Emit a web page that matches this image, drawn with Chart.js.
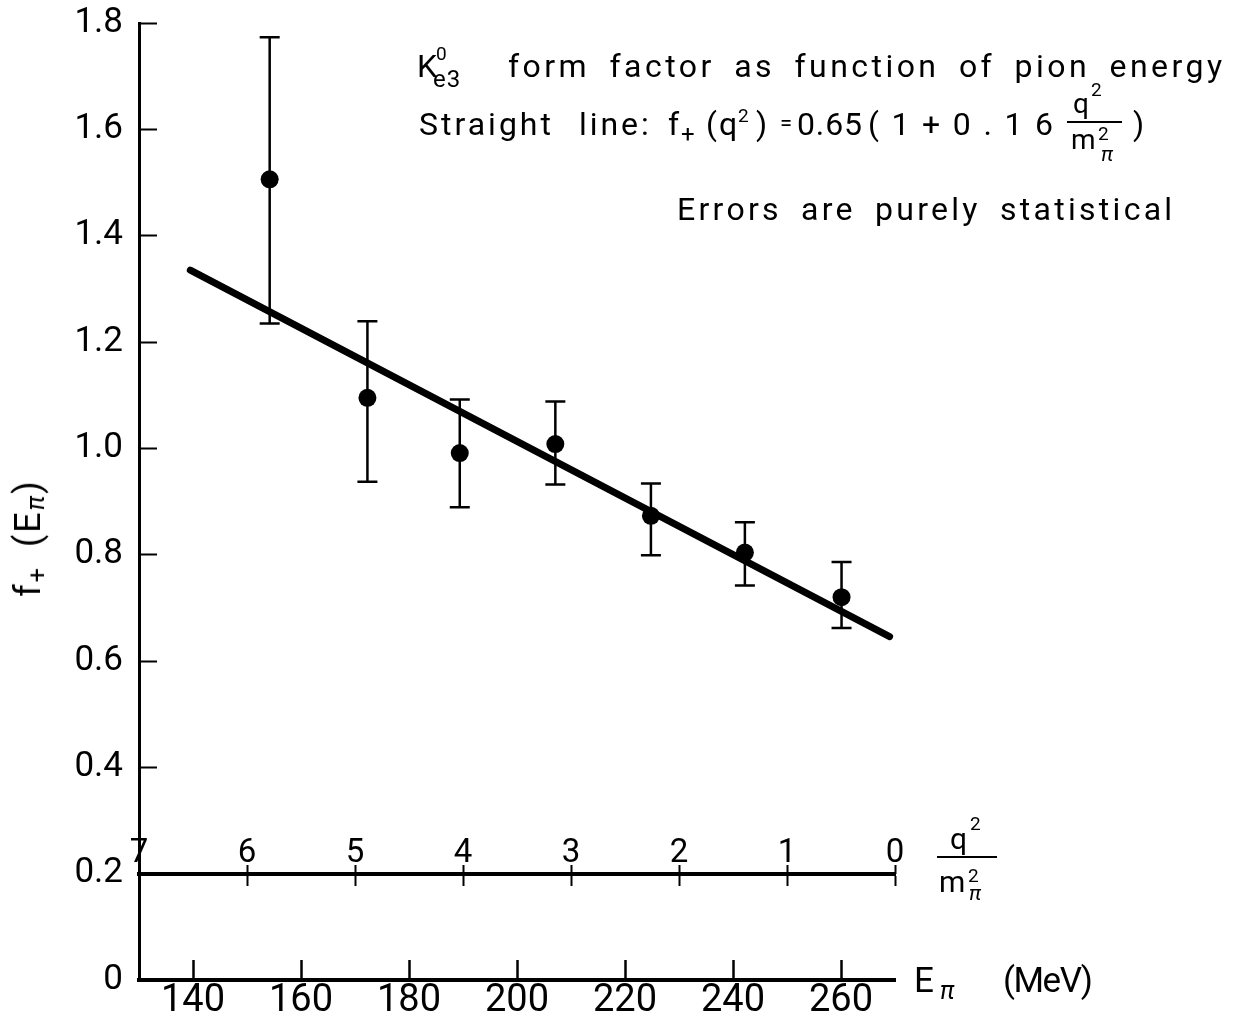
<!DOCTYPE html>
<html>
<head>
<meta charset="utf-8">
<script src="https://cdn.jsdelivr.net/npm/chart.js@4.4.0/dist/chart.umd.min.js"></script>
<style>
  html, body { margin: 0; padding: 0; background: #fff; }
  #wrap { position: relative; width: 1236px; height: 1023px; font-family: Roboto, "DejaVu Sans", sans-serif; color: #000; }
  canvas { position: absolute; left: 0; top: 0; }
  .t { position: absolute; white-space: nowrap; line-height: 1; font-size: 32px; letter-spacing: 2px; word-spacing: 8px; }
  .pi { font-style: italic; }
  .bar { position: absolute; height: 0; border-top: 2px solid #000; }
</style>
</head>
<body>
<div id="wrap">
  <canvas id="chart" width="1236" height="1023"></canvas>

  <!-- linha 1 (baseline 77) -->
  <div class="t" style="left:417px; top:50px;">K</div>
  <div class="t" style="left:436px; top:44px; font-size:19px;">0</div>
  <div class="t" style="left:433px; top:67px; font-size:24px; letter-spacing:1px;">e3</div>
  <div class="t fit" data-w="714" style="left:508px; top:50px;">form factor as function of pion energy</div>

  <!-- linha 2 (baseline 135) -->
  <div class="t" style="left:419px; top:108px; letter-spacing:3px; word-spacing:14px;">Straight line:</div>
  <div class="t" style="left:668px; top:108px;">f</div>
  <div class="t" style="left:681px; top:122px; font-size:24px;">+</div>
  <div class="t" style="left:706px; top:108px;">(q</div>
  <div class="t" style="left:738px; top:106px; font-size:19px;">2</div>
  <div class="t" style="left:756px; top:108px;">)</div>
  <div class="t" style="left:780px; top:112px; font-size:22px;">=</div>
  <div class="t fit" data-w="65" style="left:797px; top:108px;">0.65</div>
  <div class="t fit" data-w="185" style="left:868px; top:108px;">(1+0.16</div>
  <div class="t" style="left:1073px; top:90px; font-size:28px;">q</div>
  <div class="t" style="left:1091px; top:80px; font-size:19px;">2</div>
  <div class="bar" style="left:1067px; top:121px; width:55px;"></div>
  <div class="t" style="left:1071px; top:126px; font-size:28px;">m</div>
  <div class="t" style="left:1098px; top:124px; font-size:19px;">2</div>
  <div class="t pi" style="left:1101px; top:144px; font-size:21px;">π</div>
  <div class="t" style="left:1133px; top:108px;">)</div>

  <!-- linha 3 (baseline 220) -->
  <div class="t fit" data-w="495" style="left:677px; top:193px;">Errors are purely statistical</div>

  <!-- titulo eixo y -->
  <div class="t" style="left:28px; top:538px; font-size:36px; transform: translate(-50%, -50%) rotate(-90deg);">f<span style="font-size:0.7em; position:relative; top:6px;">+</span> (E<span class="pi" style="font-size:0.7em; position:relative; top:4px;">π</span>)</div>

  <!-- rotulo eixo E (baseline 993) -->
  <div class="t" style="left:914px; top:963px; font-size:35px;">E</div>
  <div class="t pi" style="left:940px; top:978px; font-size:25px;">π</div>
  <div class="t fit" data-w="90" style="left:1003px; top:963px; font-size:35px;">(MeV)</div>

  <!-- rotulo eixo q2/m2 -->
  <div class="t" style="left:950px; top:824px; font-size:30px;">q</div>
  <div class="t" style="left:970px; top:814px; font-size:19px;">2</div>
  <div class="bar" style="left:937px; top:856px; width:60px;"></div>
  <div class="t" style="left:939px; top:867px; font-size:30px;">m</div>
  <div class="t" style="left:968px; top:866px; font-size:19px;">2</div>
  <div class="t pi" style="left:969px; top:883px; font-size:21px;">π</div>
</div>

<script>
// ---------- dados ----------
const eMeV = [154.2, 172.3, 189.4, 207.1, 224.8, 242.2, 260.1];
const fPlus = [1.506, 1.095, 0.991, 1.008, 0.873, 0.804, 0.720];
const errLow = [1.235, 0.937, 0.889, 0.932, 0.799, 0.742, 0.662];
const errHigh = [1.773, 1.239, 1.092, 1.088, 0.934, 0.861, 0.786];

// reta: f+(q2) = 0.65 (1 + 0.16 q2/m2)
const fitE = [139.5, 269];
const fitF = [1.335, 0.646];

// ---------- ticks ----------
const eTicks = [140, 160, 180, 200, 220, 240, 260];
const fTicks = [0, 0.2, 0.4, 0.6, 0.8, 1.0, 1.2, 1.4, 1.6, 1.8];
const q2Ticks = [0, 1, 2, 3, 4, 5, 6, 7];

const BLACK = "#000000";

// ---------- ajusta espaçamento dos textos à largura da figura ----------
function ajustarTextos() {
  document.querySelectorAll(".fit").forEach((el) => {
    el.style.letterSpacing = "0px";
    const w = el.getBoundingClientRect().width;
    const n = el.textContent.length;
    const ls = (Number(el.dataset.w) - w) / Math.max(n - 1, 1);
    el.style.letterSpacing = ls.toFixed(2) + "px";
  });
}

// ---------- barras de erro ----------
const errorBars = {
  id: "errorBars",
  afterDatasetsDraw(chart) {
    const { ctx, scales } = chart;
    const x = scales.x;
    const y = scales.y;
    ctx.save();
    ctx.strokeStyle = BLACK;
    ctx.lineWidth = 2.5;
    eMeV.forEach((e, i) => {
      const px = x.getPixelForValue(e);
      const top = y.getPixelForValue(errHigh[i]);
      const bot = y.getPixelForValue(errLow[i]);
      ctx.beginPath();
      ctx.moveTo(px, top);
      ctx.lineTo(px, bot);
      ctx.moveTo(px - 10, top);
      ctx.lineTo(px + 10, top);
      ctx.moveTo(px - 10, bot);
      ctx.lineTo(px + 10, bot);
      ctx.stroke();
    });
    ctx.restore();
  },
};

// eixo q2/m2 desenhado em y = 0.2
const q2Scale = (extra) =>
  Object.assign(
    {
      type: "linear",
      axis: "x",
      position: { y: 0.2 },
      min: 0,
      max: 7,
      reverse: true,
      afterBuildTicks: (s) => { s.ticks = q2Ticks.map((v) => ({ value: v })); },
      afterFit: (s) => { s.height = 0; },
    },
    extra
  );

function desenhar() {
  new Chart(document.getElementById("chart"), {
    type: "scatter",
    data: {
      datasets: [
        {
          label: "f+",
          data: eMeV.map((e, i) => ({ x: e, y: fPlus[i] })),
          pointRadius: 9,
          pointBackgroundColor: BLACK,
          pointBorderWidth: 0,
        },
        {
          type: "line",
          label: "ajuste",
          data: fitE.map((e, i) => ({ x: e, y: fitF[i] })),
          borderColor: BLACK,
          borderWidth: 7,
          borderCapStyle: "round",
          pointRadius: 0,
          fill: false,
        },
      ],
    },
    options: {
      responsive: false,
      animation: false,
      devicePixelRatio: 1,
      layout: { padding: { left: 0, top: 23, right: 341, bottom: 0 } },
      plugins: { legend: { display: false }, tooltip: { enabled: false } },
      scales: {
        x: {
          type: "linear",
          position: "bottom",
          min: 130,
          max: 270,
          afterBuildTicks: (s) => { s.ticks = eTicks.map((v) => ({ value: v })); },
          afterFit: (s) => { s.height = 43; },
          border: { color: BLACK, width: 4 },
          grid: { drawOnChartArea: false, tickLength: -20, tickWidth: 2.5, tickColor: BLACK },
          ticks: { color: BLACK, font: { family: "Roboto", size: 38 }, padding: 19, maxRotation: 0, autoSkip: false },
        },
        y: {
          type: "linear",
          min: 0,
          max: 1.8,
          afterBuildTicks: (s) => { s.ticks = fTicks.map((v) => ({ value: v })); },
          afterFit: (s) => {
            s.width = 139;
            s.paddingTop = 0;
            s.paddingBottom = 0;
          },
          border: { color: BLACK, width: 3 },
          grid: { drawOnChartArea: false, tickLength: -18, tickWidth: 2, tickColor: BLACK },
          ticks: {
            color: BLACK,
            font: { family: "Roboto", size: 35 },
            padding: 34,
            callback: (v) => (v === 0 ? "0" : v.toFixed(1)),
          },
        },
        q2: q2Scale({
          border: { color: BLACK, width: 4 },
          grid: { drawOnChartArea: false, tickLength: 10, tickWidth: 2, tickColor: BLACK },
          ticks: { color: BLACK, font: { family: "Roboto", size: 33 }, padding: -50, maxRotation: 0, autoSkip: false },
        }),
        q2up: q2Scale({
          border: { display: false },
          grid: { drawOnChartArea: false, tickLength: -9, tickWidth: 2, tickColor: BLACK },
          ticks: { display: false },
        }),
      },
    },
    plugins: [errorBars],
  });
}

ajustarTextos();
desenhar();
document.fonts.ready.then(ajustarTextos);
</script>
</body>
</html>
